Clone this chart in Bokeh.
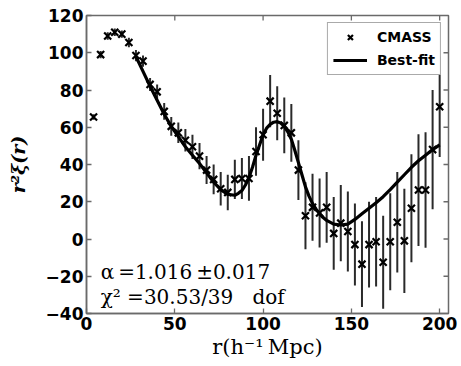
import numpy as np
from bokeh.plotting import figure
from bokeh.models import Label, Legend, LegendItem, FixedTicker, Range1d
from bokeh.embed import file_html
from bokeh.resources import INLINE

# ---- data ----
r = [4, 8, 12, 16, 20, 24, 28, 32, 36, 40, 44, 48, 52, 56, 60, 64, 68, 72, 76, 80,
     84, 88, 92, 96, 100, 104, 108, 112, 116, 120, 124, 128, 132, 136, 140, 144, 148, 152, 156, 160,
     164, 168, 172, 176, 180, 184, 188, 192, 196, 200]
xi = [65.5, 99, 109, 111, 110, 105.5, 98.5, 95.5, 83, 79, 68.5, 60.5, 57, 53, 49.5, 44.5, 37, 32, 27, 25,
      32, 32.5, 32.5, 47, 56, 74, 67.5, 61, 57, 37, 12.5, 17, 14, 17, 3, 8.5, 4, -3, -13.5, -3,
      -1.5, -12.5, -1.5, 9, -1, 16.5, 26.3, 26.3, 48, 71]
err = [1.5, 2, 2, 2, 2, 2.5, 3, 3, 3.5, 4, 4.5, 5, 5.5, 6, 6.5, 7, 7.5, 8, 9, 9.5,
       10.5, 11, 12, 13, 14, 14, 14.5, 15, 15.5, 16, 18, 18, 18.5, 19, 19.5, 20.5, 21.5, 22, 23, 23,
       24, 25, 26, 27, 28, 29, 30, 31, 32, 27]

fit_r = [28, 32, 36, 40, 44, 48, 52, 56, 60, 64, 68, 72, 76, 80, 84, 86, 88, 90, 92, 94,
         96, 98, 100, 102, 104, 106, 108, 110, 112, 114, 116, 118, 120, 122, 124, 126, 128, 130, 132, 134,
         136, 140, 144, 148, 152, 156, 160, 164, 168, 172, 176, 180, 184, 188, 192, 196, 200]
fit_y = [98, 90, 82, 74.5, 67, 60.5, 55, 49.5, 45, 40.5, 35.5, 30.5, 26.5, 24, 23.5, 24.5, 26, 29, 33, 38.5,
         45, 50.5, 56, 59.5, 61.5, 62.7, 63, 62.3, 60.5, 57.5, 53.5, 47.5, 41, 34.5, 28, 23, 19, 16, 13.5, 11.5,
         10, 8, 7.5, 8, 10.5, 13.5, 16.5, 19.5, 22.7, 26.5, 30.5, 34.5, 38.5, 42, 45, 48, 50.5]

xticks = [0, 50, 100, 150, 200]
yticks = [-40, -20, 0, 20, 40, 60, 80, 100, 120]
ytick_labels = ["\u221240", "\u221220", "0", "20", "40", "60", "80", "100", "120"]

x_lim = (0, 205)
y_lim = (-40, 120)

# ---- layout ----
W, H = 461, 366
B_LEFT, B_RIGHT, B_TOP, B_BOTTOM = 86, 13, 15, 53
frame_w = W - B_LEFT - B_RIGHT
frame_h = H - B_TOP - B_BOTTOM
TICK_PX = 5

p = figure(width=W, height=H, output_backend="svg", toolbar_location=None,
           x_range=Range1d(*x_lim), y_range=Range1d(*y_lim),
           min_border_left=B_LEFT, min_border_right=B_RIGHT,
           min_border_top=B_TOP, min_border_bottom=B_BOTTOM)
p.xgrid.visible = False
p.ygrid.visible = False
frame_col = "#6a6a6a"
p.outline_line_color = frame_col
p.outline_line_width = 1.5
p.background_fill_color = "white"
p.border_fill_color = "white"

def style_axis(ax, ticks):
    ax.ticker = FixedTicker(ticks=ticks)
    ax.major_tick_in = TICK_PX
    ax.major_tick_out = 0
    ax.minor_tick_in = 0
    ax.minor_tick_out = 0
    ax.major_tick_line_color = frame_col
    ax.major_tick_line_width = 1.3
    ax.axis_line_color = frame_col
    ax.axis_line_width = 1.5
    ax.major_label_text_font = "DejaVu Sans"
    ax.major_label_text_font_style = "bold"
    ax.major_label_text_font_size = "17px"
    ax.major_label_text_color = "black"
    ax.major_label_standoff = 3

style_axis(p.xaxis[0], xticks)
style_axis(p.yaxis[0], yticks)
p.yaxis[0].major_label_overrides = {t: l for t, l in zip(yticks, ytick_labels)}

p.xaxis[0].axis_label = "r(h\u207b\u00b9\u2009Mpc)"
p.xaxis[0].axis_label_text_font = "DejaVu Serif"
p.xaxis[0].axis_label_text_font_style = "normal"
p.xaxis[0].axis_label_text_font_size = "21px"
p.xaxis[0].axis_label_text_color = "black"
p.xaxis[0].axis_label_standoff = 2

p.yaxis[0].axis_label = "r\u00b2\u03be(r)"
p.yaxis[0].axis_label_text_font = "DejaVu Serif"
p.yaxis[0].axis_label_text_font_style = "bold italic"
p.yaxis[0].axis_label_text_font_size = "19px"
p.yaxis[0].axis_label_text_color = "black"
p.yaxis[0].axis_label_standoff = 14

# inward ticks on the top and right edges of the frame (from the tick arrays)
dx_tick = TICK_PX * (x_lim[1] - x_lim[0]) / frame_w
dy_tick = TICK_PX * (y_lim[1] - y_lim[0]) / frame_h
xt = np.array(xticks[1:], dtype=float)
p.segment(x0=xt, y0=np.full(len(xt), y_lim[1]), x1=xt, y1=np.full(len(xt), y_lim[1] - dy_tick),
          line_color=frame_col, line_width=1.3)
yt = np.array(yticks[1:-1], dtype=float)
p.segment(x0=np.full(len(yt), x_lim[1]), y0=yt, x1=np.full(len(yt), x_lim[1] - dx_tick), y1=yt,
          line_color=frame_col, line_width=1.3)

# ---- data marks ----
r_arr = np.array(r, dtype=float)
xi_arr = np.array(xi, dtype=float)
err_arr = np.array(err, dtype=float)

p.segment(x0=r_arr, y0=xi_arr - err_arr, x1=r_arr, y1=xi_arr + err_arr,
          line_color="#2a2a2a", line_width=2)
pts = p.scatter(r_arr, xi_arr, marker="x", size=10, line_width=2.2, line_color="black")
fit = p.line(fit_r, fit_y, line_color="black", line_width=3.2)

legend = Legend(items=[LegendItem(label="CMASS", renderers=[pts]),
                       LegendItem(label="Best-fit", renderers=[fit])],
                location="top_right")
legend.label_text_font = "DejaVu Sans"
legend.label_text_font_style = "bold"
legend.label_text_font_size = "14px"
legend.label_text_color = "black"
legend.border_line_color = "#555555"
legend.border_line_width = 1.5
legend.background_fill_alpha = 1.0
legend.margin = 7
legend.padding = 5
legend.spacing = 5
legend.glyph_width = 34
legend.glyph_height = 18
legend.label_height = 18
legend.label_standoff = 10
p.add_layout(legend)

ann1 = Label(x=8, y=-17.7, text="\u03b1\u2009=1.016\u2009\u00b10.017", text_font="DejaVu Serif",
             text_font_size="20px", text_color="black", text_baseline="alphabetic")
ann2 = Label(x=8, y=-31.2, text="\u03c7\u00b2\u00a0=30.53/39\u00a0\u00a0\u00a0dof", text_font="DejaVu Serif",
             text_font_size="20px", text_color="black", text_baseline="alphabetic")
p.add_layout(ann1)
p.add_layout(ann2)

open("out.html", "w").write(file_html(p, INLINE))
